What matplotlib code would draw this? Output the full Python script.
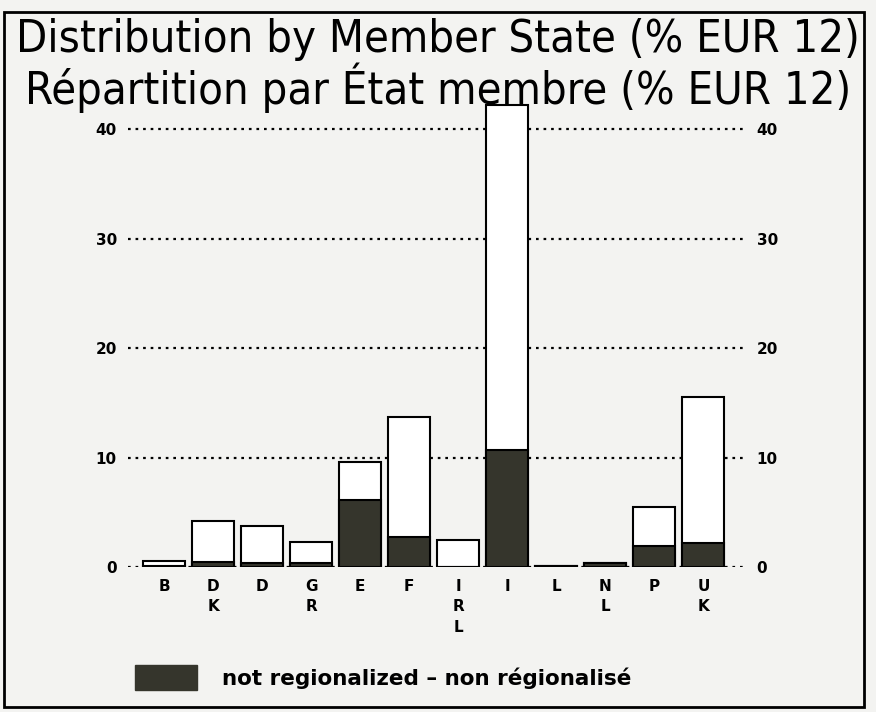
import matplotlib
matplotlib.use("Agg")
import matplotlib.pyplot as plt
from matplotlib.patches import Rectangle
import numpy as np

countries = ["B", "D\nK", "D", "G\nR", "E", "F", "I\nR\nL", "I", "L", "N\nL", "P", "U\nK"]
total = [0.5, 4.2, 3.75, 2.3, 9.6, 13.7, 2.5, 42.2, 0.1, 0.4, 5.5, 15.5]
not_regional = [0.1, 0.45, 0.4, 0.4, 6.1, 2.7, 0.0, 10.7, 0.1, 0.4, 1.9, 2.2]
yticks = [0, 10, 20, 30, 40]

paper = "#f3f3f1"
dark = "#35352c"

fig = plt.figure(figsize=(8.76, 7.12), dpi=100, facecolor=paper)
ax = fig.add_axes([0.146, 0.2037, 0.705, 0.656])
ax.set_facecolor(paper)

x = np.arange(len(countries))
for y in yticks:
    ax.axhline(y, color="black", linestyle=(0, (1.2, 2.2)), linewidth=1.6, zorder=1)

ax.bar(x, total, width=0.86, color="white", edgecolor="black", linewidth=1.5, zorder=2)
ax.bar(x, not_regional, width=0.86, color=dark, edgecolor="black", linewidth=1.5, zorder=3)

ax.set_xlim(-0.74, 11.86)
ax.set_ylim(0, 42.7)
ax.set_yticks(yticks)
ax.set_yticklabels([str(v) for v in yticks], fontweight="bold", fontsize=11)
ax.tick_params(axis="y", length=0, pad=8, labelright=True)
ax.set_xticks([])
for s in ax.spines.values():
    s.set_visible(False)

for xi, lab in zip(x, countries):
    ax.text(xi, -1.1, lab, ha="center", va="top", fontsize=11, fontweight="bold",
            linespacing=1.45)

fig.text(0.5, 0.944, "Distribution by Member State (% EUR 12)", ha="center", va="center",
         fontsize=32.5, family=["DejaVu Sans"], fontstretch="condensed")
fig.text(0.5, 0.877, "Répartition par État membre (% EUR 12)", ha="center", va="center",
         fontsize=32.5, family=["DejaVu Sans"], fontstretch="condensed")

fig.patches.append(Rectangle((135 / 876, 1 - 690 / 712), 62 / 876, 25 / 712,
                             transform=fig.transFigure, facecolor=dark, edgecolor=dark))
fig.text(222 / 876, 1 - 678 / 712, "not regionalized – non régionalisé", ha="left", va="center",
         fontsize=15.5, fontweight="bold")

fig.patches.append(Rectangle((4 / 876, 5 / 712), 860 / 876, 695 / 712, transform=fig.transFigure,
                             fill=False, edgecolor="black", linewidth=2))

fig.savefig("out.png", dpi=100, facecolor=paper)
